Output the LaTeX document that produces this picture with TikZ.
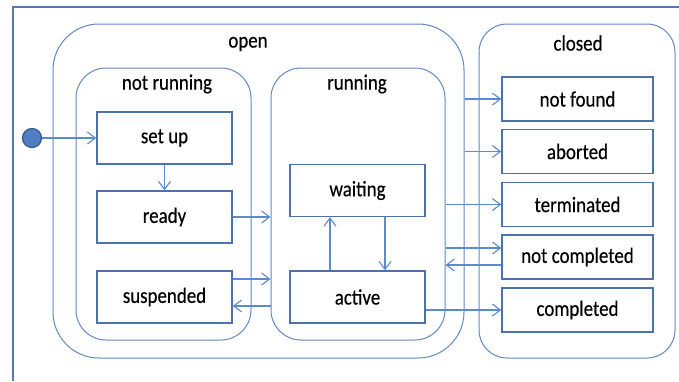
\documentclass[tikz,border=0pt]{standalone}
\usepackage{fontspec}
\setmainfont{Carlito}[FakeStretch=0.86, FakeBold=0.4]
\usetikzlibrary{arrows.meta,calc}
\definecolor{frame edge}{HTML}{5878B0}
\definecolor{region edge}{HTML}{6089C4}
\definecolor{state edge}{HTML}{4D72AA}
\definecolor{flow edge}{HTML}{5A8BD0}
\definecolor{dot fill}{HTML}{4F7EC3}
\definecolor{dot edge}{HTML}{34578F}
\tikzset{every node/.style={font=\fontsize{11}{13}\selectfont},
    region/.style 2 args={draw=region edge, line width=0.5pt, minimum width=#1, minimum height=#2},
    state/.style={draw=state edge, line width=0.7pt, minimum width=67.5pt, minimum height=26pt},
    result/.style={draw=state edge, line width=0.7pt, minimum width=75.5pt, minimum height=22pt},
    flow/.style={draw=flow edge, line width=0.55pt, -{Straight Barb[length=4pt,width=6pt]}}}

\begin{document}
\begin{tikzpicture}[x=0.5pt, y=-0.5pt]
    \useasboundingbox (0,0) rectangle (679,381);
    \draw[frame edge, line width=1.2pt] (13,381) -- (13,7) -- (679,7);
    % composite states
    \node[region={205.5pt}{167pt}, rounded corners=23pt] (open) at (258.5,191) {};
    \node[region={98pt}{167pt}, rounded corners=14pt] (closed) at (577,191) {};
    \node[region={87.5pt}{136pt}, rounded corners=15pt] (notrunning) at (163.5,204) {};
    \node[region={87pt}{136pt}, rounded corners=15pt] (running) at (358,204) {};
    \node (openlbl) at (248,44) {open};
    \node (closedlbl) at (578,43) {closed};
    \node (notrunninglbl) at (167,84) {not running};
    \node (runninglbl) at (357,84) {running};
    % simple states
    \node[circle, fill=dot fill, draw=dot edge, line width=0.6pt, minimum size=9.5pt, inner sep=0pt] (initial) at (32,138) {};
    \node[state] (setup) at (164.5,138) {set up};
    \node[state] (ready) at (164.5,217) {ready};
    \node[state] (suspended) at (164.5,297) {suspended};
    \node[state] (waiting) at (357.5,190.5) {waiting};
    \node[state] (active) at (357.5,297) {active};
    \node[result] (notfound) at (577.5,99) {not found};
    \node[result] (aborted) at (577.5,151.5) {aborted};
    \node[result] (terminated) at (577.5,204.5) {terminated};
    \node[result] (notcompleted) at (577.5,257) {not completed};
    \node[result] (completed) at (577.5,310) {completed};
    % transitions
    \draw[flow] (initial) -- (setup);
    \draw[flow] (setup) -- (ready);
    \draw[flow] (ready) -- (running.west |- ready);
    \draw[flow] ([yshift=9pt]suspended.east) -- ([yshift=9pt]suspended.east -| running.west);
    \draw[flow] ([yshift=-4.5pt]suspended.east -| running.west) -- ([yshift=-4.5pt]suspended.east);
    \draw[flow] ([xshift=-13.75pt]active.north) -- ([xshift=-13.75pt]waiting.south);
    \draw[flow] ([xshift=13.75pt]waiting.south) -- ([xshift=13.75pt]active.north);
    \draw[flow] (open.east |- notfound) -- (notfound);
    \draw[flow] (open.east |- aborted) -- (aborted);
    \draw[flow] (running.east |- terminated) -- (terminated);
    \draw[flow] ([yshift=4.5pt]running.east |- notcompleted.west) -- ([yshift=4.5pt]notcompleted.west);
    \draw[flow] ([yshift=-4pt]notcompleted.west) -- ([yshift=-4pt]running.east |- notcompleted.west);
    \draw[flow] (active.east |- completed) -- (completed);
\end{tikzpicture}
\end{document}
